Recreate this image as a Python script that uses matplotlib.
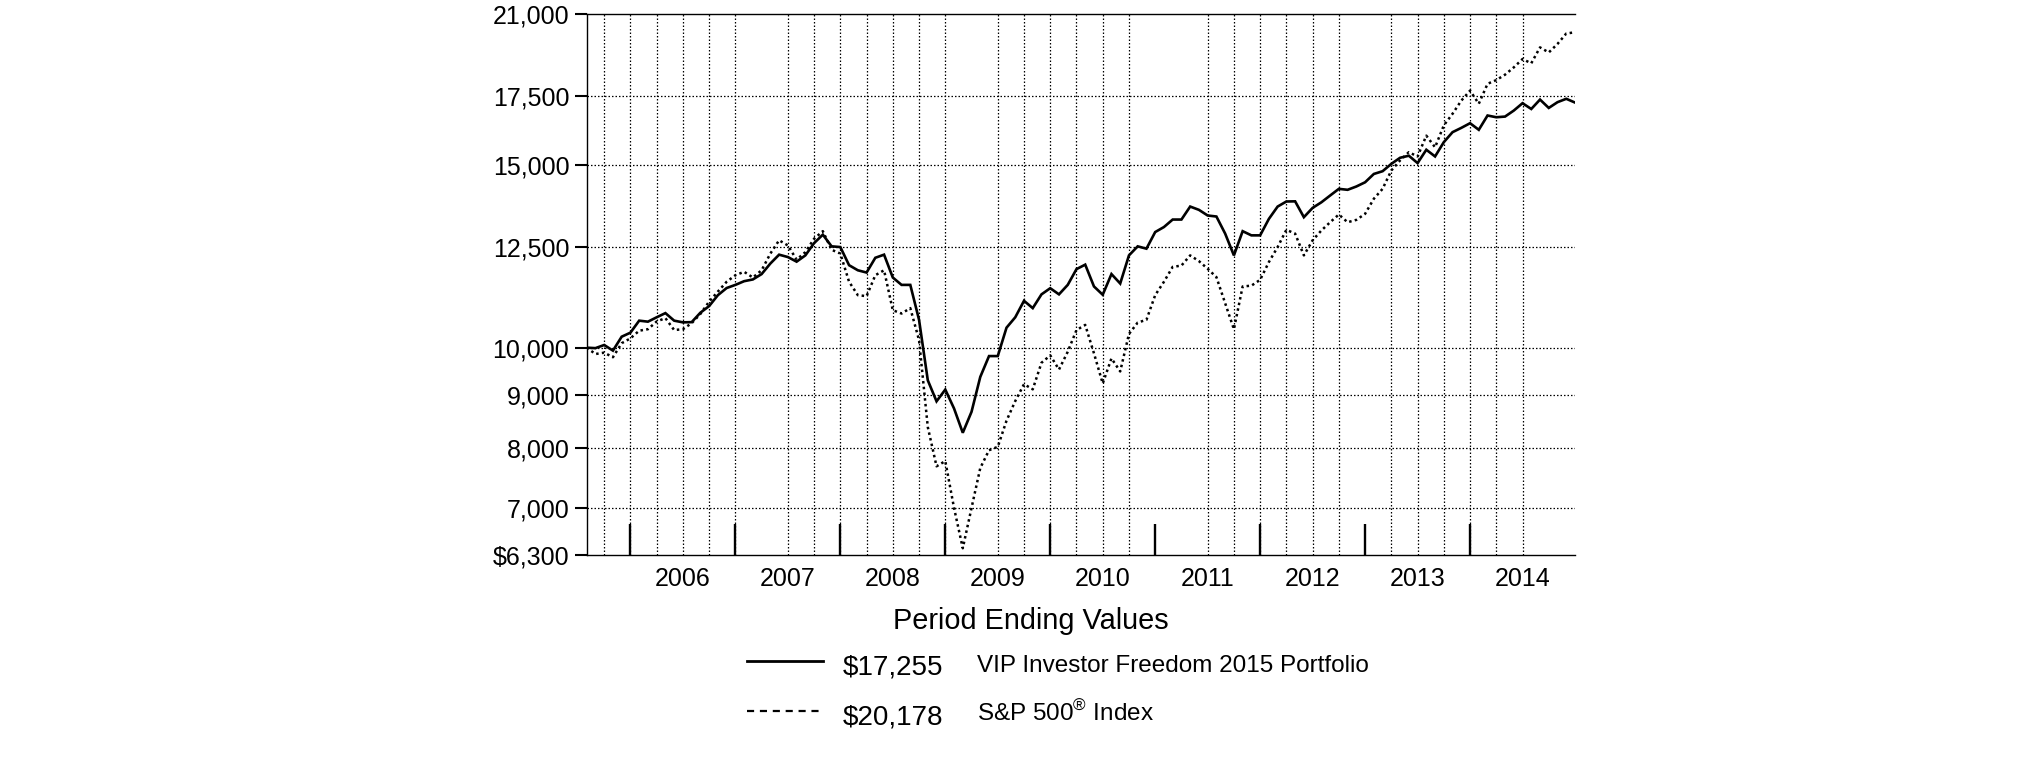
import matplotlib
matplotlib.use("Agg")
import matplotlib.pyplot as plt
from matplotlib.lines import Line2D
from matplotlib.ticker import FixedLocator, FixedFormatter, NullLocator

plt.rcParams["font.family"] = ["Liberation Sans", "DejaVu Sans"]
plt.rcParams["mathtext.fontset"] = "custom"
plt.rcParams["mathtext.rm"] = "Liberation Sans"

W, H, DPI = 2025, 761, 100

# monthly values, month 0 = start (Jul 2005) ... month 113 = Dec 2014
portfolio = [
    10000, 9990, 10060, 9935, 10248, 10340, 10620, 10596, 10700, 10800,
    10620, 10580, 10585, 10810, 10970, 11240, 11420, 11500, 11595, 11640,
    11780, 12060, 12300, 12235, 12110, 12280, 12620, 12860, 12530, 12510,
    12015, 11880, 11820, 12215, 12300, 11690, 11500, 11500, 10640, 9300,
    8875, 9110, 8735, 8275, 8670, 9370, 9815, 9815, 10455, 10700,
    11100, 10920, 11260, 11415, 11260, 11500, 11910, 12030, 11460, 11250,
    11780, 11535, 12280, 12530, 12465, 12935, 13080, 13300, 13300, 13690,
    13590, 13420, 13390, 12890, 12280, 12960, 12840, 12840, 13320, 13690,
    13845, 13850, 13370, 13650, 13820, 14030, 14240, 14210, 14315, 14450,
    14720, 14810, 15055, 15260, 15330, 15080, 15535, 15305, 15800, 16155,
    16310, 16480, 16240, 16765, 16700, 16725, 16950, 17230, 17010, 17370,
    17050, 17270, 17400, 17255,
]
sp500 = [
    10000, 9860, 9890, 9790, 10100, 10210, 10385, 10420, 10600, 10680,
    10400, 10420, 10560, 10780, 11080, 11330, 11580, 11750, 11840, 11690,
    11880, 12330, 12700, 12555, 12165, 12370, 12745, 12960, 12435, 12330,
    11580, 11240, 11215, 11750, 11880, 10870, 10790, 10920, 10170, 8380,
    7680, 7770, 7000, 6400, 7000, 7650, 7960, 8020, 8500, 8880,
    9220, 9115, 9670, 9830, 9525, 9910, 10400, 10520, 9875, 9235,
    9765, 9485, 10310, 10575, 10640, 11240, 11580, 11970, 12005, 12280,
    12125, 11920, 11700, 11040, 10420, 11460, 11480, 11630, 12100, 12510,
    13000, 12890, 12280, 12700, 12980, 13220, 13450, 13220, 13290, 13470,
    13930, 14240, 14835, 15170, 15450, 15305, 16030, 15620, 16400, 16830,
    17330, 17720, 17210, 17990, 18140, 18360, 18660, 19010, 18830, 19510,
    19290, 19660, 20120, 20178,
]
months = list(range(len(portfolio)))

y_ticks = [6300, 7000, 8000, 9000, 10000, 12500, 15000, 17500, 21000]
y_labels = ["$6,300", "7,000", "8,000", "9,000", "10,000", "12,500",
            "15,000", "17,500", "21,000"]
y_grid = [7000, 8000, 9000, 10000, 12500, 15000, 17500]

year_ends = [5, 17, 29, 41, 53, 65, 77, 89, 101]
year_mids = [11, 23, 35, 47, 59, 71, 83, 95, 107]
year_labels = ["2006", "2007", "2008", "2009", "2010", "2011", "2012", "2013", "2014"]
quarter_grid = [2, 5, 8, 11, 14, 17, 23, 26, 29, 32, 35, 38, 41, 47, 50, 53,
                56, 59, 62, 71, 74, 77, 80, 83, 86, 92, 95, 98, 101, 104, 107]

legend_names = ["VIP Investor Freedom 2015 Portfolio", "S&P 500$^{®}$ Index"]
legend_values = ["$17,255", "$20,178"]

fig = plt.figure(figsize=(W / DPI, H / DPI), dpi=DPI)
L, R, T, B = 586.7, 1575.0, 14.3, 555.3
ax = fig.add_axes([L / W, 1 - B / H, (R - L) / W, (B - T) / H])

ax.set_yscale("log")
ax.set_ylim(6300, 21000)
ax.set_xlim(0, 113)

dot = (0, (1.2, 1.6))
for v in y_grid:
    ax.axhline(v, color="black", lw=0.9, ls=dot, zorder=1)
for m in quarter_grid:
    ax.axvline(m, color="black", lw=0.9, ls=dot, zorder=1)

ax.plot(months, sp500, color="black", lw=1.8, ls=(0, (1.0, 1.3)), zorder=3)
ax.plot(months, portfolio, color="black", lw=1.9, solid_joinstyle="miter", zorder=4)

ax.yaxis.set_major_locator(FixedLocator(y_ticks))
ax.yaxis.set_major_formatter(FixedFormatter(y_labels))
ax.yaxis.set_minor_locator(NullLocator())
ax.tick_params(axis="y", which="major", direction="out", length=8.5, width=1.5,
               labelsize=18, pad=4)

ax.xaxis.set_major_locator(FixedLocator(year_ends))
ax.xaxis.set_major_formatter(FixedFormatter([""] * len(year_ends)))
ax.xaxis.set_minor_locator(FixedLocator(year_mids))
ax.xaxis.set_minor_formatter(FixedFormatter(year_labels))
ax.tick_params(axis="x", which="major", direction="in", length=22, width=1.7)
ax.tick_params(axis="x", which="minor", length=0, labelsize=18, pad=8.5)

for s in ["left", "top", "bottom"]:
    ax.spines[s].set_linewidth(1.0)
ax.spines["right"].set_visible(False)


def fx(px):
    return px / W


def fy(py):
    return 1 - py / H


fig.text(fx(1031), fy(621), "Period Ending Values", fontsize=20.8,
         ha="center", va="center")

styles = [dict(ls="-", lw=2.0), dict(ls=(0, (3.2, 2.6)), lw=1.6)]
line_y = [660.5, 710.5]
value_base = [674, 724]
name_base = [672, 721]
for i in range(2):
    fig.add_artist(Line2D([fx(747), fx(823)], [fy(line_y[i])] * 2, color="black",
                          transform=fig.transFigure, **styles[i]))
    fig.text(fx(843), fy(value_base[i]), legend_values[i].replace("$", r"\$"),
             fontsize=20, ha="left", va="baseline")
    fig.text(fx(977), fy(name_base[i]), legend_names[i], fontsize=17.5,
             ha="left", va="baseline")

fig.savefig("out.png", dpi=DPI)
